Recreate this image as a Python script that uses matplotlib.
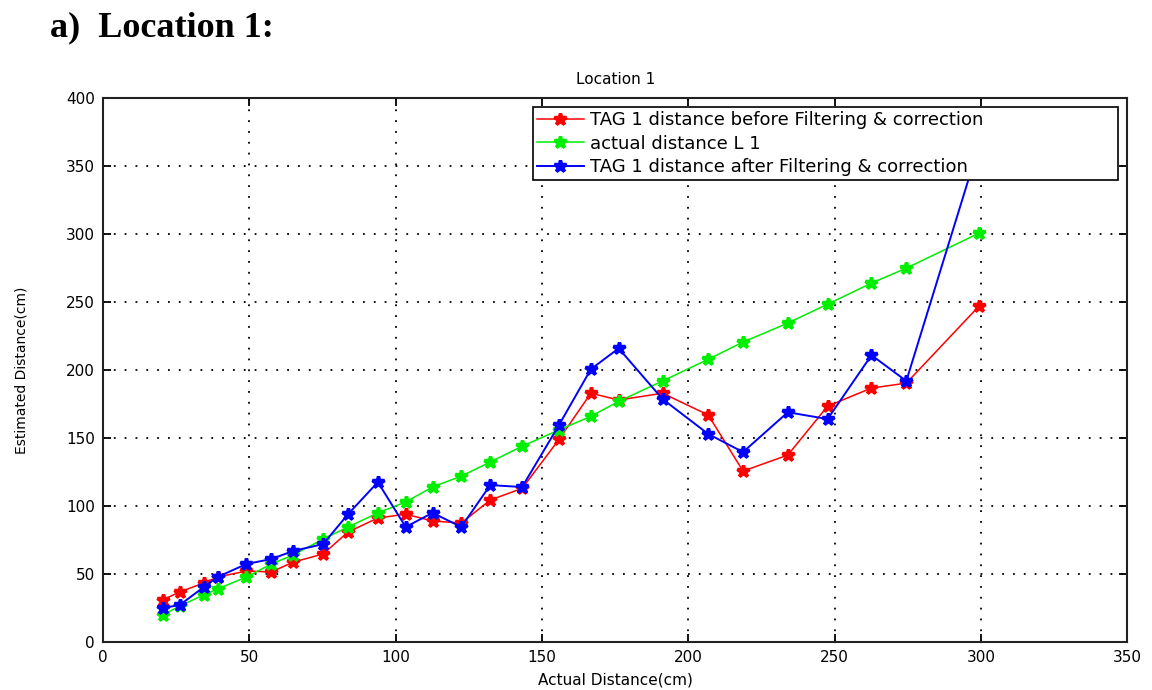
import numpy as np
import matplotlib.pyplot as plt

# values
actual_x = [20.4, 26.2, 34.4, 39.1, 49.0, 57.5, 65.0, 75.2, 83.7, 93.9, 103.4,
            112.6, 122.4, 132.3, 143.2, 155.8, 166.7, 176.2, 191.2, 206.8,
            218.7, 234.0, 247.6, 262.6, 274.5, 299.3]
before_filter = [31, 36.8, 43.4, 47.8, 52.2, 51.5, 58.8, 64.7, 80.9, 91.2, 94,
                 89, 87.5, 104.4, 113, 149, 183, 178, 183, 167, 125.7, 137.5,
                 173.5, 186.8, 190.4, 247]
actual_l1 = [19.9, 26.5, 34.6, 39, 47.8, 57.4, 64, 75.7, 84.6, 94.9, 103, 114,
             122, 132.4, 144, 156, 166, 177, 192, 208, 220.6, 234.6, 248.5,
             264, 275, 300.7]
after_filter = [25, 27.2, 40.4, 47.8, 57.4, 61, 67, 72, 94, 117.6, 84.6, 95,
                84.6, 115.4, 114, 159.6, 200.7, 216, 178.7, 153, 139.7, 169,
                164, 211, 192, 365]

labels = ['TAG 1 distance before Filtering & correction',
          'actual distance L 1',
          'TAG 1 distance after Filtering & correction']

fig = plt.figure(figsize=(11.52, 6.9), dpi=100)
ax = fig.add_axes([0.0895, 0.0696, 0.889, 0.788])

ax.plot(actual_x, before_filter, color='red', marker='*', markersize=9,
        markeredgewidth=2.5, linewidth=1.1, label=labels[0])
ax.plot(actual_x, actual_l1, color='#00ee00', marker='*', markersize=9,
        markeredgewidth=2.5, linewidth=1.1, label=labels[1])
ax.plot(actual_x, after_filter, color='blue', marker='*', markersize=9,
        markeredgewidth=2.5, linewidth=1.4, label=labels[2])

ax.set_xlim(0, 350)
ax.set_ylim(0, 400)
ax.set_xticks(np.arange(0, 351, 50))
ax.set_yticks(np.arange(0, 401, 50))
ax.grid(True, color='black', linestyle=(0, (1, 5)), linewidth=1.3)
ax.tick_params(direction='in', top=True, right=True, length=6, width=1.3,
               labelsize=11, pad=6)
for s in ax.spines.values():
    s.set_linewidth(1.5)
    s.set_color('#222222')

ax.set_title('Location 1', fontsize=11, pad=10)
ax.set_xlabel('Actual Distance(cm)', fontsize=11, labelpad=5)
ax.set_ylabel('Estimated Distance(cm)', fontsize=10, labelpad=27)

leg = ax.legend(loc='upper left', bbox_to_anchor=(0.42, 0.983, 0.571, 0.0),
                mode='expand', fontsize=13,
                fancybox=False, framealpha=1, edgecolor='black',
                handlelength=2.6, borderpad=0.2, labelspacing=0.3,
                handletextpad=0.35, borderaxespad=0)
leg.get_frame().set_linewidth(1.2)

fig.text(0.043, 0.948, 'a)  Location 1:', fontsize=26, fontweight='bold',
         family='Liberation Serif', va='baseline')

fig.savefig('out.png', dpi=100)
